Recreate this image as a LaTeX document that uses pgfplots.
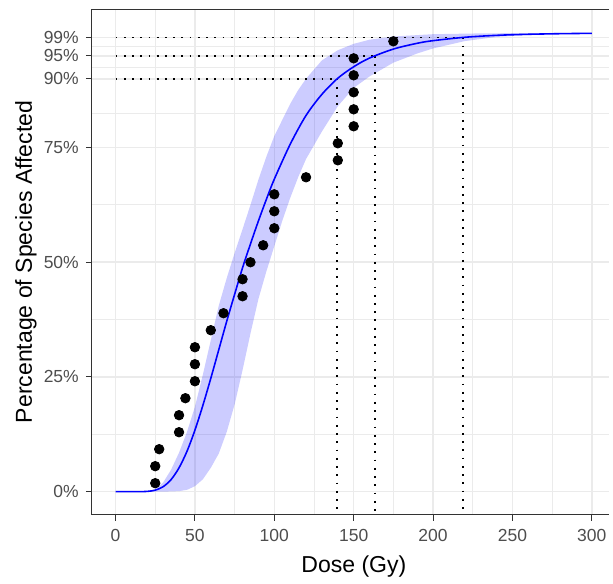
\documentclass[border=0pt]{standalone}
\usepackage{pgfplots}
\pgfplotsset{compat=1.18}
\usepackage{fontspec}
\setmainfont{Liberation Sans}
\definecolor{gridgray}{HTML}{EBEBEB}
\definecolor{tickgray}{HTML}{4D4D4D}
\definecolor{framegray}{HTML}{333333}
\definecolor{fitblue}{HTML}{0000FF}

\begin{document}
\begin{tikzpicture}
\begin{axis}[
    scale only axis,
    width=260.3pt, height=254.5pt,
    xmin=-15, xmax=310.6,
    ymin=-0.05, ymax=1.0514,
    clip mode=individual,
    axis line style={draw=none},
    xtick={0,50,...,300},
    minor xtick={25,75,...,275},
    ytick={0,0.25,0.5,0.75,0.9,0.95,0.99},
    yticklabels={0\%,25\%,50\%,75\%,90\%,95\%,99\%},
    minor ytick={0.125,0.375,0.625,0.825,0.925,0.97},
    grid=both,
    major grid style={gridgray, line width=0.8pt},
    minor grid style={gridgray, line width=0.45pt},
    tick align=outside,
    xtick pos=left, ytick pos=left,
    major tick length=3pt, minor tick length=0pt,
    tick style={framegray, line width=0.5pt},
    ticklabel style={font=\fontsize{8.8}{10}\selectfont, text=tickgray},
    xticklabel style={yshift=-1pt},
    /pgf/number format/assume math mode=true,
    xlabel={Dose (Gy)},
    ylabel={Percentage of Species Affected},
    label style={font=\fontsize{11.6}{13}\selectfont},
    xlabel style={xshift=1.85pt},
    ylabel style={name=ylab, inner sep=0pt},
    dotline/.style={black, line width=0.9pt, dash pattern=on 0.9pt off 3.25pt},
]

% confidence ribbon: upper edge left to right, lower edge right to left
\addplot[fill=fitblue, fill opacity=0.2, draw=none] coordinates {
    (0,0) (15,0.0001) (20,0.001) (25,0.005) (30,0.02) (35,0.048) (40,0.085)
    (45,0.13) (50,0.185) (55,0.255) (60,0.33) (65,0.405) (70,0.465) (75,0.52)
    (80,0.572) (85,0.625) (90,0.68) (95,0.73) (100,0.775) (105,0.81) (110,0.845)
    (115,0.875) (120,0.9) (130,0.94) (140,0.962) (150,0.976) (160,0.985)
    (175,0.992) (200,0.997) (225,0.9985) (250,0.9993) (280,0.9997) (300,0.9999)
    (300,0.9988) (280,0.998) (260,0.9955) (240,0.991) (220,0.982) (200,0.966)
    (190,0.955) (175,0.935) (160,0.905) (150,0.88) (140,0.84) (130,0.785)
    (125,0.755) (120,0.725) (115,0.685) (110,0.64) (105,0.59) (100,0.535)
    (95,0.48) (90,0.42) (85,0.345) (80,0.265) (75,0.19) (70,0.13) (65,0.083)
    (60,0.052) (55,0.027) (50,0.012) (45,0.004) (40,0.0012) (30,0)
};

% dose levels for 90, 95 and 99 %
\addplot[dotline] coordinates {(0,0.9) (139.6,0.9)};
\addplot[dotline] coordinates {(139.6,0.9) (139.6,-0.04)};
\addplot[dotline] coordinates {(0,0.95) (163.3,0.95)};
\addplot[dotline] coordinates {(163.3,0.95) (163.3,-0.05)};
\addplot[dotline] coordinates {(0,0.99) (218.8,0.99)};
\addplot[dotline] coordinates {(218.8,0.99) (218.8,-0.04)};

% fitted curve
\addplot[fitblue, line width=0.8pt, smooth] coordinates {
    (0,0) (10,0) (15,0.0001) (20,0.0006) (25,0.0033) (30,0.0109) (35,0.0264)
    (40,0.052) (45,0.088) (50,0.134) (55,0.188) (60,0.247) (65,0.309)
    (70,0.371) (75,0.43) (80,0.488) (85,0.54) (90,0.59) (95,0.637)
    (100,0.681) (110,0.757) (120,0.82) (130,0.866) (140,0.901) (150,0.926)
    (160,0.945) (175,0.9646) (190,0.9772) (200,0.9829) (220,0.9903)
    (240,0.9945) (260,0.9968) (280,0.9981) (300,0.9989)
};

% species
\addplot[only marks, mark=*, mark size=2.4pt, black] coordinates {
    (25,0.0185) (25,0.0556) (27.5,0.0926) (40,0.1296) (40,0.1667)
    (44,0.2037) (50,0.2407) (50,0.2778) (50,0.3148) (60,0.3519)
    (68,0.3889) (80,0.4259) (80,0.4630) (85,0.5000) (93,0.5370)
    (100,0.5741) (100,0.6111) (100,0.6481) (120,0.6852) (140,0.7222)
    (140,0.7593) (150,0.7963) (150,0.8333) (150,0.8704) (150,0.9074)
    (150,0.9444) (175,0.9815)
};

\draw[framegray, line width=0.6pt] (rel axis cs:1,1) -- (rel axis cs:0,1)
    -- (rel axis cs:0,0) -- (rel axis cs:1,0);
\coordinate (tl) at (rel axis cs:0,1);
\end{axis}
\path (tl) ++(0,4.65pt);
\path (ylab.north) ++(-7.5pt,0);
\end{tikzpicture}
\end{document}
